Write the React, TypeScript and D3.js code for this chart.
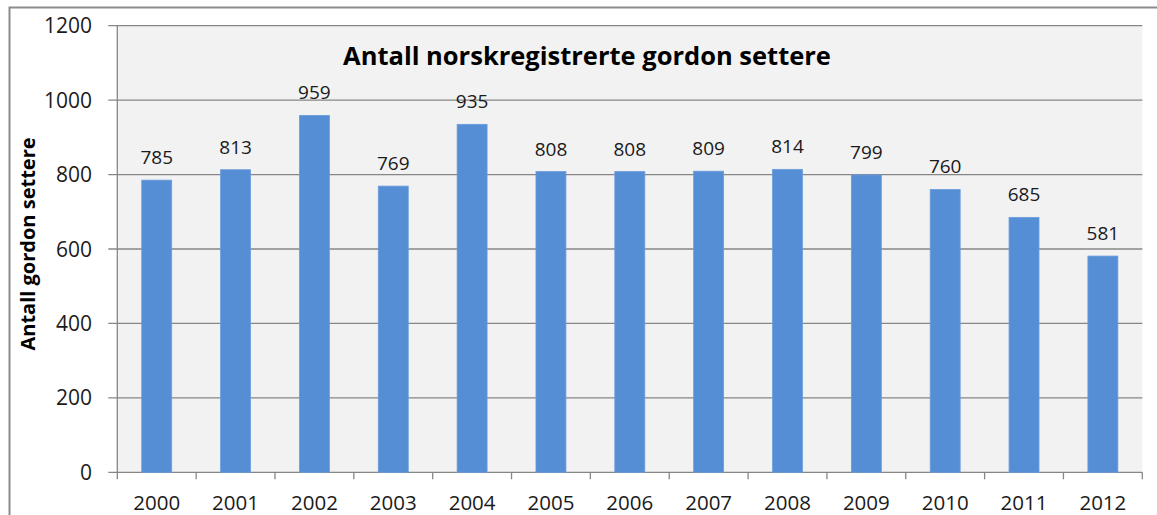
import React from "react";
import * as d3 from "d3";

const years = ["2000","2001","2002","2003","2004","2005","2006","2007","2008","2009","2010","2011","2012"];
const counts = [785, 813, 959, 769, 935, 808, 808, 809, 814, 799, 760, 685, 581];
const yTicks = [0, 200, 400, 600, 800, 1000, 1200];
const titleText = "Antall norskregistrerte gordon settere";
const yAxisTitle = "Antall gordon settere";

const W = 1157, H = 515;
const plot = { left: 117.3, right: 1142.3, top: 25.7, bottom: 472.3 };
const FONT = "'Open Sans', 'Liberation Sans', sans-serif";
const AXIS = "#868686";

export default function App() {
  const x = d3.scaleBand<string>().domain(years).range([plot.left, plot.right]).padding(0);
  const y = d3.scaleLinear().domain([0, 1200]).range([plot.bottom, plot.top]);
  const barW = x.bandwidth() * 0.38;
  const boundaries = [...years.map((d) => x(d) as number), plot.right];

  return (
    <svg width={W} height={H} style={{ position: "fixed", left: 0, top: 0, background: "#fff" }}>
      <rect x={9.5} y={7.5} width={1300} height={700} fill="#fff" stroke="#8c8c8c" strokeWidth={2} />
      <rect x={plot.left} y={plot.top} width={plot.right - plot.left} height={plot.bottom - plot.top} fill="#f2f2f2" />
      {yTicks.map((t) => (
        <g key={t}>
          <line x1={plot.left - 9} x2={plot.right} y1={y(t)} y2={y(t)} stroke={AXIS} strokeWidth={1.3} />
          <text x={92} y={y(t) + 7.5} textAnchor="end" fontFamily={FONT} fontSize={21} fill="#1a1a1a">{t}</text>
        </g>
      ))}
      <line x1={plot.left} x2={plot.left} y1={plot.top} y2={plot.bottom} stroke={AXIS} strokeWidth={1.3} />
      {boundaries.map((b, i) => (
        <line key={i} x1={b} x2={b} y1={plot.bottom} y2={plot.bottom + 7} stroke={AXIS} strokeWidth={1.3} />
      ))}
      {years.map((yr, i) => {
        const cx = (x(yr) as number) + x.bandwidth() / 2;
        return (
          <g key={yr}>
            <rect x={cx - barW / 2} y={y(counts[i])} width={barW} height={plot.bottom - y(counts[i])} fill="#558ed5" stroke="#6a9ddd" strokeWidth={0.8} />
            <text x={cx} y={y(counts[i]) - 16} textAnchor="middle" fontFamily={FONT} fontSize={19} fill="#1a1a1a">{counts[i]}</text>
            <text x={cx} y={510} textAnchor="middle" fontFamily={FONT} fontSize={20.5} fill="#1a1a1a">{yr}</text>
          </g>
        );
      })}
      <text x={587} y={65} textAnchor="middle" fontFamily={FONT} fontSize={25.5} fontWeight="bold" fill="#000">{titleText}</text>
      <text transform={`translate(35, 244) rotate(-90)`} textAnchor="middle" fontFamily={FONT} fontSize={20} fontWeight="bold" fill="#000">{yAxisTitle}</text>
    </svg>
  );
}
